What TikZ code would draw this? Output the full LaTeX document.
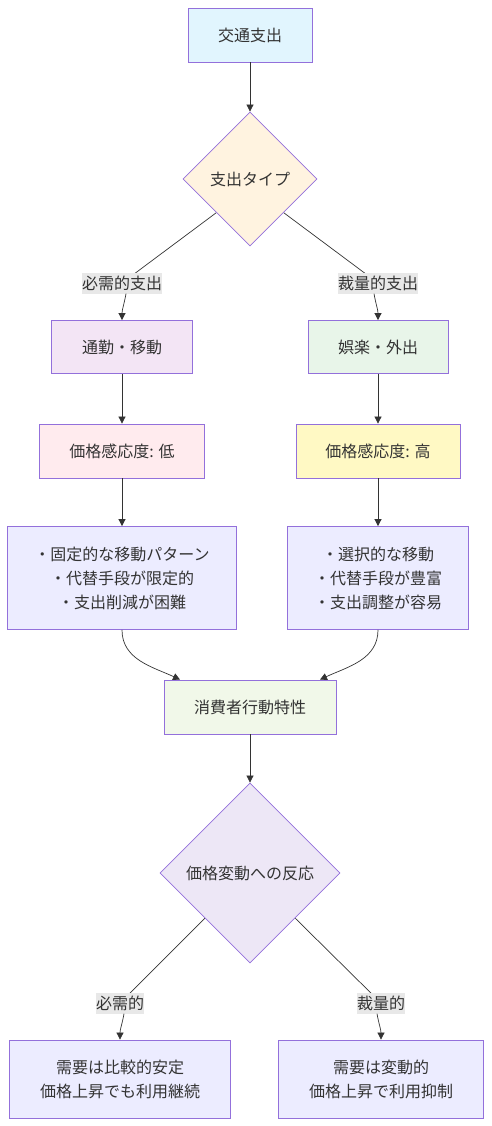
\documentclass[tikz,border=0pt]{standalone}
\usepackage{fontspec}
\setmainfont{Noto Sans CJK JP}
\usetikzlibrary{shapes.geometric,arrows.meta,backgrounds}
\definecolor{ink}{HTML}{333333}
\definecolor{rim}{HTML}{9370DB}
\definecolor{tagfill}{HTML}{E8E8E8}
\definecolor{skyfill}{HTML}{E1F5FE}
\definecolor{peachfill}{HTML}{FFF3E0}
\definecolor{lilacfill}{HTML}{F3E5F5}
\definecolor{mintfill}{HTML}{E8F5E9}
\definecolor{rosefill}{HTML}{FFEBEE}
\definecolor{lemonfill}{HTML}{FFF9C4}
\definecolor{notefill}{HTML}{ECECFF}
\definecolor{leaffill}{HTML}{F1F8E9}
\definecolor{mauvefill}{HTML}{EDE7F6}
\tikzset{
	box/.style={draw=rim,line width=0.8pt,text=ink,inner sep=0pt,align=center},
	choice/.style={box,diamond,aspect=1},
	tag/.style={fill=tagfill,text=ink,inner sep=0pt,minimum height=21pt},
	edge/.style={draw=ink,line width=0.7pt},
	arrow/.style={edge,-{Triangle[length=7pt,width=7pt]}}
}
\begin{document}
\begin{tikzpicture}[x=1pt,y=1pt,font=\fontsize{16}{24}\selectfont]
		\useasboundingbox (0,0) rectangle (492,-1126);
		% top
		\node[box,fill=skyfill,minimum width=124pt,minimum height=54pt] (spend) at (250,-35) {交通支出};
		\node[choice,fill=peachfill,minimum width=134pt,minimum height=134pt] (kind) at (250,-179) {支出タイプ};
		% left hand
		\node[tag] (need) at (122,-283) {必需的支出};
		\node[box,fill=lilacfill,minimum width=141pt,minimum height=53pt] (commute) at (122,-347) {通勤・移動};
		\node[box,fill=rosefill,minimum width=165pt,minimum height=54pt] (low) at (122,-451) {価格感応度: 低};
		\node[box,fill=notefill,minimum width=229pt,minimum height=103pt] (fixed) at (122,-578)
			{・固定的な移動パターン\\・代替手段が限定的\\・支出削減が困難};
		% right hand
		\node[tag] (want) at (378,-283) {裁量的支出};
		\node[box,fill=mintfill,minimum width=140pt,minimum height=53pt] (leisure) at (378,-347) {娯楽・外出};
		\node[box,fill=lemonfill,minimum width=164pt,minimum height=54pt] (high) at (378,-451) {価格感応度: 高};
		\node[box,fill=notefill,minimum width=181pt,minimum height=103pt] (free) at (378,-578)
			{・選択的な移動\\・代替手段が豊富\\・支出調整が容易};
		% bottom
		\node[box,fill=leaffill,minimum width=172pt,minimum height=54pt] (habit) at (250,-707) {消費者行動特性};
		\node[choice,fill=mauvefill,minimum width=180pt,minimum height=180pt] (react) at (250,-873) {価格変動への反応};
		\node[tag] (needB) at (120,-1003) {必需的};
		\node[tag] (wantB) at (381,-1003) {裁量的};
		\node[box,fill=notefill,minimum width=221pt,minimum height=78pt] (stable) at (120,-1079)
			{需要は比較的安定\\価格上昇でも利用継続};
		\node[box,fill=notefill,minimum width=205pt,minimum height=78pt] (shift) at (381,-1079)
			{需要は変動的\\価格上昇で利用抑制};
		% connectors behind the tags
		\begin{pgfonlayer}{background}
		\draw[edge] (kind.south west) -- (need.center);
		\draw[edge] (kind.south east) -- (want.center);
		\draw[edge] (react.south west) -- (needB.center);
		\draw[edge] (react.south east) -- (wantB.center);
		\end{pgfonlayer}
		% connectors
		\draw[arrow] (spend) -- (kind);
		\draw[arrow] ([xshift=4pt]need.south) to[out=-100,in=90] (commute.north);
		\draw[arrow] ([xshift=-4pt]want.south) to[out=-80,in=90] (leisure.north);
		\draw[arrow] (commute) -- (low);
		\draw[arrow] (leisure) -- (high);
		\draw[arrow] (low) -- (fixed);
		\draw[arrow] (high) -- (free);
		\draw[arrow] (fixed.south) to[out=-90,in=155] ([xshift=-70pt]habit.north);
		\draw[arrow] (free.south) to[out=-90,in=25] ([xshift=70pt]habit.north);
		\draw[arrow] (habit) -- (react);
		\draw[arrow] ([xshift=4pt]needB.south) to[out=-100,in=90] (stable.north);
		\draw[arrow] ([xshift=-4pt]wantB.south) to[out=-80,in=90] (shift.north);
	\end{tikzpicture}
\end{document}
